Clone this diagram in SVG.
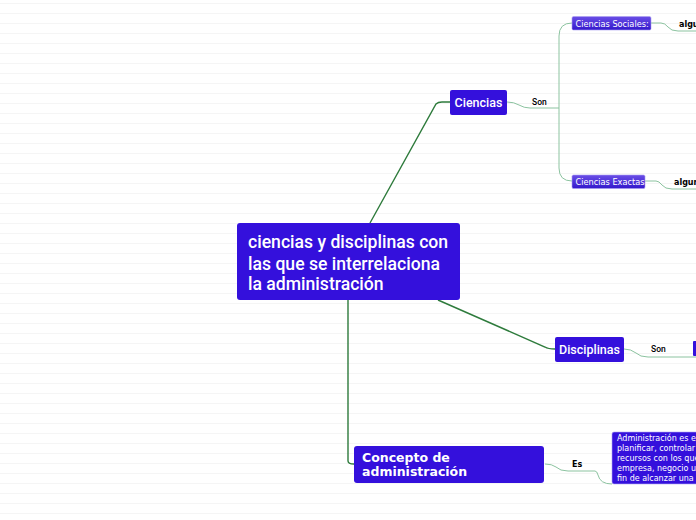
<svg xmlns="http://www.w3.org/2000/svg" width="696" height="520" viewBox="0 0 696 520">
<defs>
<pattern id="lines" x="0" y="3" width="696" height="10" patternUnits="userSpaceOnUse">
<rect x="0" y="0" width="696" height="1" fill="#f5f5f5"/>
</pattern>
<linearGradient id="sub" x1="0" y1="0" x2="0" y2="1">
<stop offset="0" stop-color="#6a4ee6"/>
<stop offset="1" stop-color="#3318cc"/>
</linearGradient>
</defs>
<style>
.node{fill:#3410dc}
.sub{fill:url(#sub);stroke:#a99ef0;stroke-width:0.6}
.dark{fill:none;stroke:#2e7b3c;stroke-width:1.4}
.light{fill:none;stroke:#8cc3a0;stroke-width:1}
.t{fill:#fff;font-family:Roboto,"Liberation Sans",sans-serif;font-weight:500}
.d{fill:#fff;font-family:"DejaVu Sans",Verdana,sans-serif}
.lab{fill:#000;font-family:Roboto,"Liberation Sans",sans-serif;font-size:8.5px;font-weight:500}
.labb{fill:#000;font-family:"DejaVu Sans",Verdana,sans-serif;font-size:8px;font-weight:bold}
</style>
<rect width="696" height="520" fill="#fff"/>
<rect width="696" height="520" fill="url(#lines)"/>
<g id="connectors">
<path class="dark" d="M370 223 L436 104 Q438 102 442 102 L450 102"/>
<path class="dark" d="M438 300 L545 347 Q548 349 555 349"/>
<path class="dark" d="M348 300 L348 461 Q348 464 354 464"/>
<path class="light" d="M507 102 Q514 102 519 105 Q524 108 530 108 L559 108"/>
<path class="light" d="M559 108 L559 36 Q559 23 572 23"/>
<path class="light" d="M559 108 L559 168 Q559 181 572 181"/>
<path class="light" d="M651 23 L661 23 Q665 23 668 27 Q671 31 678 31 L696 31"/>
<path class="light" d="M645 181 L656 181 Q659 181 662 185 Q665 189 672 189 L696 189"/>
<path class="light" d="M624 349 Q631 349 636 353 Q640 357 648 357 L696 357"/>
<path class="light" d="M545 464 Q552 464 556 467 Q560 471 568 471 L595 471 Q597 471 598 475 Q600 484 612 484"/>
</g>
<g id="main">
<rect class="node" x="237" y="223" width="223" height="77" rx="3"/>
<text class="t" font-size="17.6" x="248" y="248">ciencias y disciplinas con</text>
<text class="t" font-size="17.6" x="248" y="269.5">las que se interrelaciona</text>
<text class="t" font-size="17.6" x="248" y="290">la administración</text>
</g>
<g id="ciencias">
<rect class="node" x="450" y="90" width="57" height="25" rx="2"/>
<text class="t" font-size="12.5" x="478.5" y="107" text-anchor="middle">Ciencias</text>
</g>
<text class="lab" x="532" y="105">Son</text>
<g id="ciencias-sociales">
<rect class="sub" x="572" y="16.5" width="79" height="13.5" rx="1.5"/>
<text class="d" font-size="8.2" x="575.5" y="26.5">Ciencias Sociales:</text>
</g>
<g id="ciencias-exactas">
<rect class="sub" x="572" y="175" width="73" height="13.5" rx="1.5"/>
<text class="d" font-size="8.2" x="575.5" y="185">Ciencias Exactas</text>
</g>
<text class="labb" x="679" y="27">algu</text>
<text class="labb" x="674" y="185">algun</text>
<g id="disciplinas">
<rect class="node" x="555" y="337" width="69" height="25" rx="2"/>
<text class="t" font-size="12.5" x="589.5" y="354" text-anchor="middle">Disciplinas</text>
</g>
<text class="lab" font-size="9.5" x="651" y="352">Son</text>
<g id="disciplinas-child">
<rect class="node" x="693" y="341" width="6" height="15" rx="1"/>
</g>
<g id="concepto">
<rect class="node" x="354" y="446" width="190" height="37" rx="3"/>
<text class="d" font-size="12.5" font-weight="bold" x="362" y="462">Concepto de</text>
<text class="d" font-size="12.5" font-weight="bold" x="362" y="476">administración</text>
</g>
<text class="labb" x="572" y="467">Es</text>
<g id="definicion">
<rect class="node" x="612" y="432" width="90" height="52" rx="2" stroke="#b0a6f2" stroke-width="0.6"/>
<text class="d" font-size="8" x="617" y="441">Administración es e</text>
<text class="d" font-size="8" x="617" y="451">planificar, controlar</text>
<text class="d" font-size="8" x="617" y="461">recursos con los que</text>
<text class="d" font-size="8" x="617" y="471">empresa, negocio u</text>
<text class="d" font-size="8" x="617" y="481">fin de alcanzar una</text>
</g>
</svg>
